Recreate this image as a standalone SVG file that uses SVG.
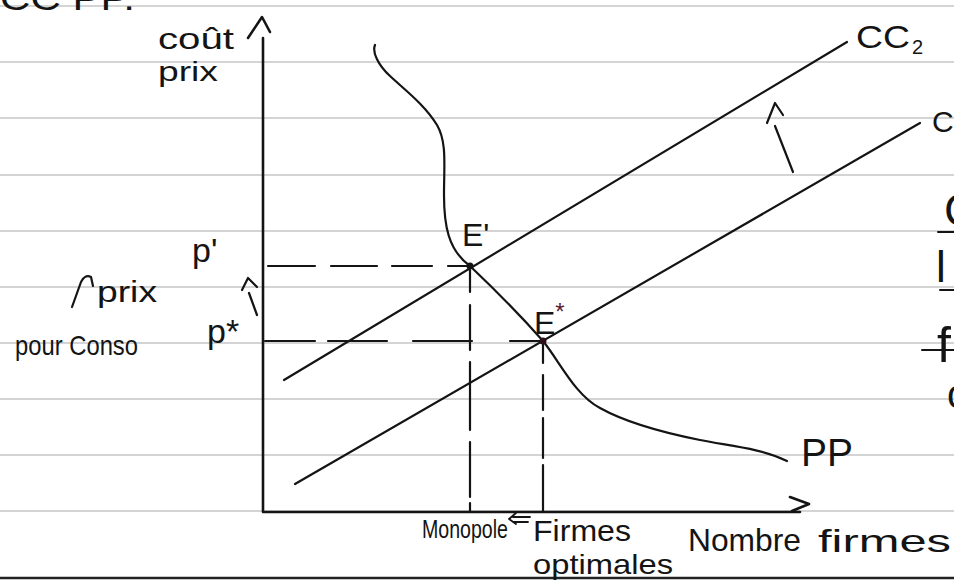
<svg xmlns="http://www.w3.org/2000/svg" width="954" height="586" viewBox="0 0 954 586">
<style>
.paper{stroke:#c6c6c6;stroke-width:1.6;fill:none}
.ink{stroke:#141414;fill:none;stroke-linecap:round;stroke-linejoin:round}
.axis{stroke-width:2.6}
.curve{stroke-width:2.2}
.dash{stroke-width:2.2}
.t{font-family:"Liberation Sans","DejaVu Sans",sans-serif;fill:#141414}
.red{fill:#5c1a2c}
</style>
<rect width="954" height="586" fill="#ffffff"/>
<g id="paper">
<path class="paper" d="M0,6H954M0,62H954M0,118H954M0,175H954M0,231H954M0,287H954M0,343H954M0,399H954M0,455H954M0,511H954"/>
<path d="M0,578H954" stroke="#222" stroke-width="2.4"/>
</g>
<text class="t" x="0" y="10" font-size="34" textLength="135" lengthAdjust="spacingAndGlyphs">CC PP.</text>
<g id="axes">
<path class="ink axis" d="M263,38V512H800"/>
<path class="ink axis" d="M248,38L262,17L270,32"/>
<path class="ink axis" d="M790,497L809,504L792,511"/>
</g>
<g id="connectors">
<path id="CC2" class="ink curve" d="M284,380L847,42"/>
<path id="CC1" class="ink curve" d="M295,484L920,123"/>
<path id="PP" class="ink curve" d="M375,45C372,52 378,65 390,76C405,90 425,105 437,125C447,142 444,165 444,195C444,225 448,250 470,266C490,285 520,315 543,341C560,362 575,395 600,408C625,422 660,432 700,440C730,446 760,448 787,461"/>
<path class="ink dash" d="M268,266H315M331,266H377M392,266H432M448,266H468"/>
<path class="ink dash" d="M265,341H315M328,341H387M413,341H472M510,341H543"/>
<path class="ink dash" d="M470,270V292M470,305V350M470,362V430M470,442V497M470,503V512"/>
<path class="ink dash" d="M543,343V363M543,375V410M543,418V458M543,465V511"/>
<path class="ink curve" d="M767,123L775,103L783,115M775,126L793,172"/>
<path class="ink curve" d="M242,290L248,278L257,287M249,293L257,315"/>
<path class="ink curve" d="M72,307L81,282Q85,274 91,277L93,286"/>
<path class="ink" stroke-width="1.8" d="M530,517H513M516,513L509,519L516,524M513,522H528"/>
</g>
<g id="E-prime">
<circle cx="470" cy="266" r="3.5" fill="#141414"/>
<text class="t" x="462" y="246" font-size="32">E'</text>
</g>
<g id="E-star">
<circle cx="543" cy="341" r="3.5" fill="#2a1016"/>
<text class="t" x="534" y="334" font-size="32">E<tspan class="red" dy="-14" font-size="24">*</tspan></text>
</g>
<g id="labels">
<text class="t" x="158" y="49" font-size="30" textLength="76" lengthAdjust="spacingAndGlyphs">coût</text>
<text class="t" x="158" y="81" font-size="28" textLength="60" lengthAdjust="spacingAndGlyphs">prix</text>
<text class="t" x="192" y="262" font-size="34">p'</text>
<text class="t" x="207" y="343" font-size="34">p*</text>
<text class="t" x="97" y="302" font-size="30" textLength="60" lengthAdjust="spacingAndGlyphs">prix</text>
<text class="t" x="15" y="355" font-size="28" textLength="123" lengthAdjust="spacingAndGlyphs">pour Conso</text>
<text class="t" x="856" y="48" font-size="32" textLength="54" lengthAdjust="spacingAndGlyphs">CC</text>
<text class="t" x="912" y="54" font-size="20">2</text>
<text class="t" x="932" y="132" font-size="30">C</text>
<text class="t" x="801" y="466" font-size="38" textLength="52" lengthAdjust="spacingAndGlyphs">PP</text>
<text class="t" x="422" y="538" font-size="25" textLength="86" lengthAdjust="spacingAndGlyphs">Monopole</text>
<text class="t" x="533" y="541" font-size="30" textLength="98" lengthAdjust="spacingAndGlyphs">Firmes</text>
<text class="t" x="533" y="574" font-size="28" textLength="140" lengthAdjust="spacingAndGlyphs">optimales</text>
<text class="t" x="688" y="551" font-size="32" textLength="113" lengthAdjust="spacingAndGlyphs">Nombre</text>
<text class="t" x="818" y="552" font-size="32" textLength="133" lengthAdjust="spacingAndGlyphs">firmes</text>
</g>
<g id="edge-fragments">
<text class="t" x="944" y="226" font-size="46">C</text>
<path class="ink" stroke-width="2" d="M938,232H954M940,290H954M922,350H954"/>
<text class="t" x="936" y="282" font-size="44">l</text>
<text class="t" x="937" y="362" font-size="50">f</text>
<text class="t" x="947" y="408" font-size="40">c</text>
</g>
</svg>
